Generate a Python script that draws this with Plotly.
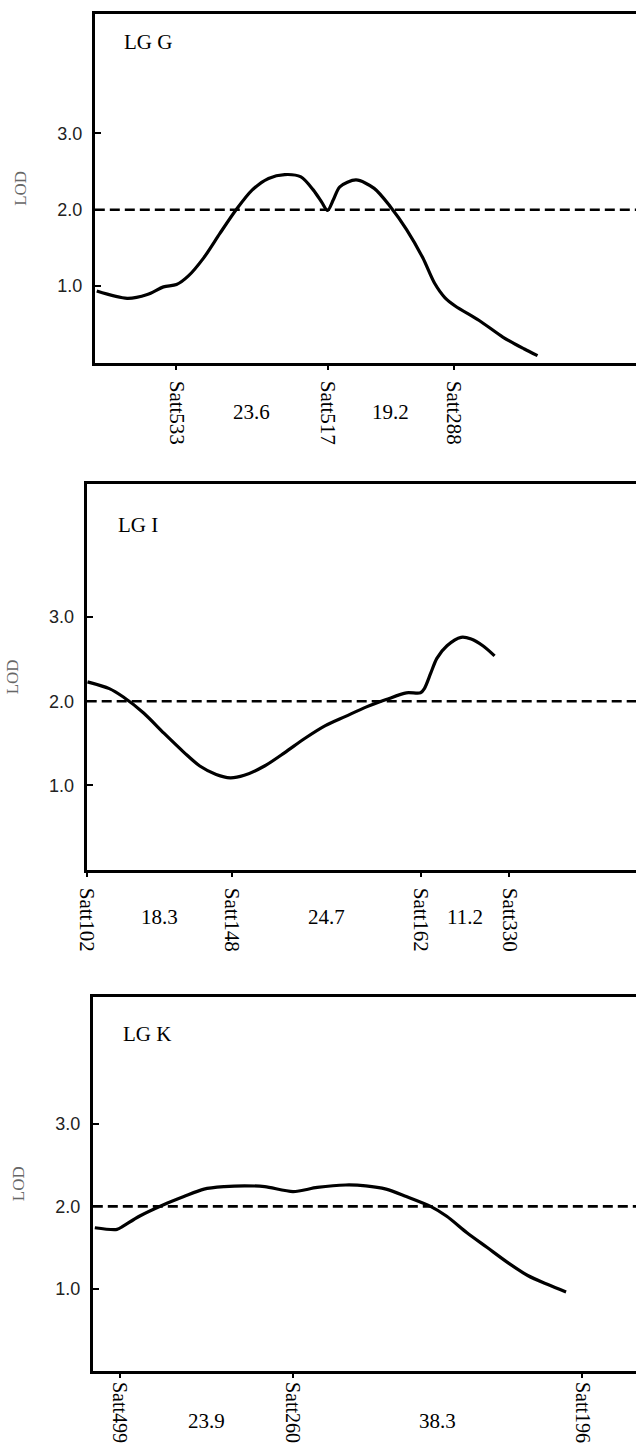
import plotly.graph_objects as go

W, H = 636, 1447

# ---------------- data ----------------
threshold = 2.0
y_tickvals = [1.0, 2.0, 3.0]
y_ticktext = ["1.0", "2.0", "3.0"]

# LG G
g_name = "LG G"
g_markers = ["Satt533", "Satt517", "Satt288"]
g_marker_pos = [12.6, 35.9, 55.4]
g_intervals = ["23.6", "19.2"]
g_pos = [0.3, 5.0, 8.1, 10.6, 12.6, 14.4, 16.8, 19.3, 21.8, 24.3, 26.8, 29.3, 31.8, 33.7, 35.0,
         35.9, 36.8, 37.8, 40.3, 43.1, 45.6, 48.1, 50.6, 52.4, 54.0, 55.6, 59.3, 63.0, 66.2, 68.3]
g_lod = [0.935, 0.84, 0.89, 0.99, 1.02, 1.13, 1.37, 1.69, 2.0, 2.26, 2.41, 2.46, 2.43, 2.26, 2.10,
         1.99, 2.13, 2.30, 2.39, 2.28, 2.04, 1.74, 1.37, 1.04, 0.85, 0.74, 0.55, 0.33, 0.18, 0.09]

# LG I
i_name = "LG I"
i_markers = ["Satt102", "Satt148", "Satt162", "Satt330"]
i_marker_pos = [0.0, 18.6, 42.9, 54.2]
i_intervals = ["18.3", "24.7", "11.2"]
i_pos = [0.1, 2.9, 4.7, 7.3, 9.9, 12.5, 14.5, 16.6, 18.4, 20.2, 22.8, 25.4, 28.0, 30.6, 33.2,
         35.8, 38.4, 41.0, 42.8, 43.3, 44.1, 44.9, 46.2, 48.0, 49.3, 50.8, 52.3]
i_lod = [2.23, 2.15, 2.05, 1.86, 1.62, 1.39, 1.23, 1.13, 1.09, 1.12, 1.23, 1.39, 1.56, 1.71, 1.82,
         1.93, 2.02, 2.10, 2.10, 2.15, 2.33, 2.51, 2.66, 2.76, 2.74, 2.66, 2.54]

# LG K
k_name = "LG K"
k_markers = ["Satt499", "Satt260", "Satt196"]
k_marker_pos = [3.65, 26.9, 65.9]
k_intervals = ["23.9", "38.3"]
k_pos = [0.27, 3.26, 4.08, 6.26, 9.53, 12.26, 14.97, 17.69, 20.42, 23.14, 26.95, 30.21, 34.03,
         36.75, 39.48, 42.2, 45.46, 47.64, 50.36, 53.09, 55.81, 58.54, 61.26, 63.7]
k_lod = [1.74, 1.72, 1.76, 1.88, 2.02, 2.12, 2.21, 2.24, 2.25, 2.24, 2.18, 2.23, 2.26, 2.25, 2.21,
         2.12, 2.0, 1.88, 1.68, 1.50, 1.32, 1.16, 1.05, 0.96]

# ---------------- layout geometry (pixels, top-origin) ----------------
LW = 3  # axis line width
panels = [
    dict(name=g_name, markers=g_markers, mpos=g_marker_pos, intervals=g_intervals, x=g_pos, y=g_lod,
         left=93.3, top=12.7, bottom=364.0, pxcm=6.5, ymax=4.56, lab_x=121.5, lab_y=42, int_y=412,
         xlab_standoff=7, xlab_size=21),
    dict(name=i_name, markers=i_markers, mpos=i_marker_pos, intervals=i_intervals, x=i_pos, y=i_lod,
         left=85.2, top=482.7, bottom=871.0, pxcm=7.82, ymax=4.58, lab_x=115.5, lab_y=525, int_y=917,
         xlab_standoff=7, xlab_size=21),
    dict(name=k_name, markers=k_markers, mpos=k_marker_pos, intervals=k_intervals, x=k_pos, y=k_lod,
         left=91.3, top=995.0, bottom=1372.5, pxcm=7.45, ymax=4.55, lab_x=120.5, lab_y=1034, int_y=1421,
         xlab_standoff=0, xlab_size=20),
]

SERIF = "Liberation Serif, Times New Roman, serif"
SANS = "Liberation Sans, Arial, sans-serif"

fig = go.Figure()
layout = dict(width=W, height=H, margin=dict(l=0, r=0, t=0, b=0, autoexpand=False),
              paper_bgcolor="white", plot_bgcolor="white", showlegend=False,
              shapes=[], annotations=[])

for n, p in enumerate(panels, start=1):
    sfx = "" if n == 1 else str(n)
    xa, ya = "x" + sfx, "y" + sfx
    xmax = (W - p["left"]) / p["pxcm"]
    fig.add_trace(go.Scatter(x=p["x"], y=p["y"], mode="lines", xaxis=xa, yaxis=ya,
                             line=dict(color="black", width=3.2, shape="spline", smoothing=0.8),
                             hoverinfo="skip"))
    x0 = (p["left"] + LW / 2) / W
    y0 = (H - (p["bottom"] - LW / 2)) / H
    y1 = (H - (p["top"] + LW / 2)) / H
    layout["xaxis" + sfx] = dict(
        domain=[x0, 1], range=[0, xmax], anchor=ya, automargin=False,
        showline=True, linecolor="black", linewidth=LW, mirror=True,
        showgrid=False, zeroline=False,
        tickmode="array", tickvals=p["mpos"], ticktext=p["markers"],
        ticks="outside", ticklen=4, tickwidth=2, tickcolor="black",
        tickangle=90, ticklabelstandoff=p["xlab_standoff"],
        tickfont=dict(family=SERIF, size=p["xlab_size"], color="black"),
    )
    layout["yaxis" + sfx] = dict(
        domain=[y0, y1], range=[0, p["ymax"]], anchor=xa, automargin=False,
        showline=True, linecolor="black", linewidth=LW, mirror=False,
        showgrid=False, zeroline=False,
        tickmode="array", tickvals=y_tickvals, ticktext=y_ticktext,
        ticks="inside", ticklen=6, tickwidth=2, tickcolor="black",
        ticklabelstandoff=6,
        tickfont=dict(family=SANS, size=18, color="#222222"),
        title=dict(text="LOD", font=dict(family=SERIF, size=17, color="#666666"), standoff=27),
    )
    # threshold line
    layout["shapes"].append(dict(type="line", xref=xa + " domain", yref=ya, x0=0, x1=1,
                                 y0=threshold, y1=threshold,
                                 line=dict(color="black", width=2.6, dash="10px,5px")))
    # panel label
    layout["annotations"].append(dict(text=p["name"], xref="paper", yref="paper",
                                      x=p["lab_x"] / W, y=(H - p["lab_y"]) / H,
                                      xanchor="left", yanchor="middle", showarrow=False,
                                      font=dict(family=SERIF, size=21, color="black")))
    # interval distances between markers
    for k, txt in enumerate(p["intervals"]):
        mid = (p["mpos"][k] + p["mpos"][k + 1]) / 2
        layout["annotations"].append(dict(text=txt, xref=xa, yref="paper", x=mid,
                                          y=(H - p["int_y"]) / H, xanchor="center", yanchor="middle",
                                          showarrow=False,
                                          font=dict(family=SERIF, size=21, color="black")))

fig.update_layout(**layout)
fig.write_html("out.html")
